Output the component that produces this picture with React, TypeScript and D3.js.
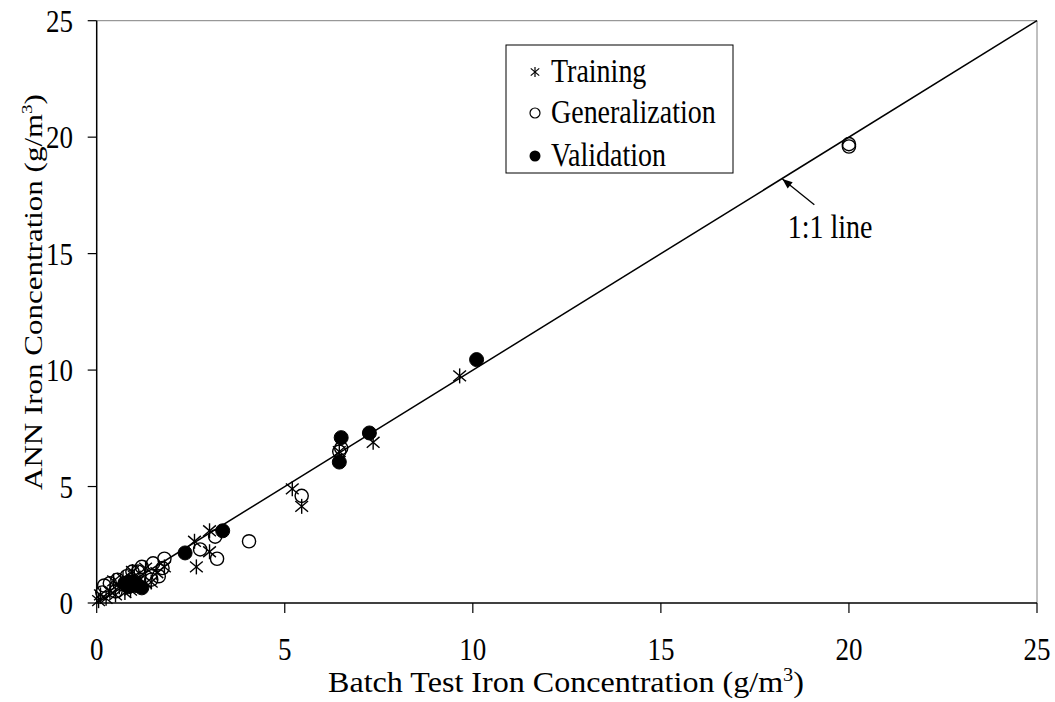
import React from "react";
import * as d3 from "d3";

const training: [number, number][] = [
  [0.05, 0.1], [0.1, 0.35], [0.25, 0.2], [0.35, 0.5], [0.5, 0.35], [0.6, 0.7], [0.75, 0.45],
  [0.9, 0.55], [0.45, 0.95], [0.7, 1.05], [1.0, 1.15], [1.15, 1.0], [1.3, 0.85], [1.45, 0.9],
  [1.6, 1.3], [1.8, 1.55], [1.3, 1.5], [0.95, 1.35],
  [2.6, 2.65], [2.65, 1.55], [3.0, 3.1], [3.0, 2.2], [5.2, 4.9], [5.45, 4.15], [6.45, 6.5],
  [7.35, 6.9], [9.65, 9.75],
];
const generalization: [number, number][] = [
  [0.2, 0.75], [0.15, 0.45], [0.5, 0.5], [0.55, 1.0], [0.8, 1.15], [0.85, 0.9], [1.1, 1.35],
  [1.2, 1.55], [1.5, 1.7], [1.45, 1.0], [1.65, 1.15], [1.8, 1.9], [1.75, 1.5], [0.35, 0.85],
  [0.95, 1.35], [2.75, 2.3], [3.15, 2.85], [3.2, 1.9], [4.05, 2.65], [5.45, 4.6], [6.45, 6.5],
  [6.5, 6.65], [20.0, 19.7], [20.0, 19.6],
];
const validation: [number, number][] = [
  [0.75, 0.85], [0.9, 0.9], [1.05, 0.75], [1.2, 0.65], [0.85, 0.7], [2.35, 2.15], [3.35, 3.1],
  [6.45, 6.05], [6.5, 7.1], [7.25, 7.3], [10.1, 10.45],
];
const xTicks = [0, 5, 10, 15, 20, 25];
const yTicks = [0, 5, 10, 15, 20, 25];
const lineLabel = "1:1 line";
const arrowFrom: [number, number] = [19.08, 17.1];
const arrowTo: [number, number] = [18.23, 18.2];

const FONT = "'Liberation Serif', 'Times New Roman', serif";

function Star({ cx, cy, s = 7.5, w = 1.4 }: { cx: number; cy: number; s?: number; w?: number }) {
  const dx = s * 0.85;
  const dy = s * 0.72;
  return (
    <g stroke="#000" strokeWidth={w}>
      <line x1={cx} y1={cy - s} x2={cx} y2={cy + s} />
      <line x1={cx - dx} y1={cy - dy} x2={cx + dx} y2={cy + dy} />
      <line x1={cx - dx} y1={cy + dy} x2={cx + dx} y2={cy - dy} />
    </g>
  );
}

function T({ x, y, size, anchor = "middle", children }: any) {
  return (
    <text
      transform={`translate(${x},${y}) scale(1,1.2)`}
      fontFamily={FONT}
      fontSize={size}
      textAnchor={anchor}
      fill="#000"
    >
      {children}
    </text>
  );
}

export default function App() {
  const W = 1055, H = 702;
  const left = 96.7, right = 1037, top = 20.7, bottom = 603;
  const x = d3.scaleLinear().domain([0, 25]).range([left, right]);
  const y = d3.scaleLinear().domain([0, 25]).range([bottom, top]);

  const ax = x(arrowTo[0]), ay = y(arrowTo[1]);
  const bx = x(arrowFrom[0]), by = y(arrowFrom[1]);
  const ang = Math.atan2(ay - by, ax - bx);
  const ah = 10, aw = 4;
  const p1 = [ax - ah * Math.cos(ang) + aw * Math.sin(ang), ay - ah * Math.sin(ang) - aw * Math.cos(ang)];
  const p2 = [ax - ah * Math.cos(ang) - aw * Math.sin(ang), ay - ah * Math.sin(ang) + aw * Math.cos(ang)];

  return (
    <svg width={W} height={H} style={{ position: "absolute", left: 0, top: 0, background: "#fff" }}>
      <rect x={0} y={0} width={W} height={H} fill="#fff" />
      {/* plot frame */}
      <line x1={left} y1={top} x2={right} y2={top} stroke="#808080" strokeWidth={1} />
      <line x1={right} y1={top} x2={right} y2={bottom} stroke="#808080" strokeWidth={1} />
      <line x1={left} y1={top} x2={left} y2={bottom} stroke="#000" strokeWidth={1.5} />
      <line x1={left} y1={bottom} x2={right} y2={bottom} stroke="#000" strokeWidth={1.5} />
      {yTicks.map((t) => (
        <g key={"y" + t}>
          <line x1={left - 9} x2={left} y1={y(t)} y2={y(t)} stroke="#000" strokeWidth={1.2} />
          <T x={73} y={y(t) + 11} size={27} anchor="end">{t}</T>
        </g>
      ))}
      {xTicks.map((t) => (
        <g key={"x" + t}>
          <line x1={x(t)} x2={x(t)} y1={bottom} y2={bottom + 10} stroke="#000" strokeWidth={1.2} />
          <T x={x(t)} y={660} size={27}>{t}</T>
        </g>
      ))}
      {/* 1:1 line */}
      <line x1={x(0)} y1={y(0)} x2={x(25)} y2={y(25)} stroke="#000" strokeWidth={1.5} />
      {/* markers */}
      {training.map((d, i) => (
        <Star key={"t" + i} cx={x(d[0])} cy={y(d[1])} />
      ))}
      {generalization.map((d, i) => (
        <circle key={"g" + i} cx={x(d[0])} cy={y(d[1])} r={6.6} fill="none" stroke="#000" strokeWidth={1.4} />
      ))}
      {validation.map((d, i) => (
        <circle key={"v" + i} cx={x(d[0])} cy={y(d[1])} r={7} fill="#000" stroke="#000" strokeWidth={1} />
      ))}
      {/* annotation */}
      <line x1={bx} y1={by} x2={ax} y2={ay} stroke="#000" strokeWidth={1.3} />
      <polygon points={`${ax},${ay} ${p1[0]},${p1[1]} ${p2[0]},${p2[1]}`} fill="#000" />
      <T x={830} y={238} size={28}>{lineLabel}</T>
      {/* legend */}
      <rect x={506} y={45} width={227} height={128} fill="#fff" stroke="#000" strokeWidth={1} />
      <Star cx={535} cy={72} s={5} w={1.2} />
      <T x={551} y={82} size={28} anchor="start">Training</T>
      <circle cx={535} cy={113} r={5} fill="none" stroke="#000" strokeWidth={1.2} />
      <T x={551} y={123} size={28} anchor="start">Generalization</T>
      <circle cx={535} cy={156} r={5.5} fill="#000" />
      <T x={551} y={166} size={28} anchor="start">Validation</T>
      {/* axis titles */}
      <text
        transform={`translate(566,692) scale(1.07,1)`}
        fontFamily={FONT}
        fontSize={30}
        textAnchor="middle"
      >
        Batch Test Iron Concentration (g/m<tspan dy={-11} fontSize={19}>3</tspan><tspan dy={11}>)</tspan>
      </text>
      <text
        transform={`translate(42,292) rotate(-90) scale(1,0.82)`}
        fontFamily={FONT}
        fontSize={31}
        textAnchor="middle"
      >
        ANN Iron Concentration (g/m<tspan dy={-12} fontSize={19}>3</tspan><tspan dy={12}>)</tspan>
      </text>
    </svg>
  );
}
